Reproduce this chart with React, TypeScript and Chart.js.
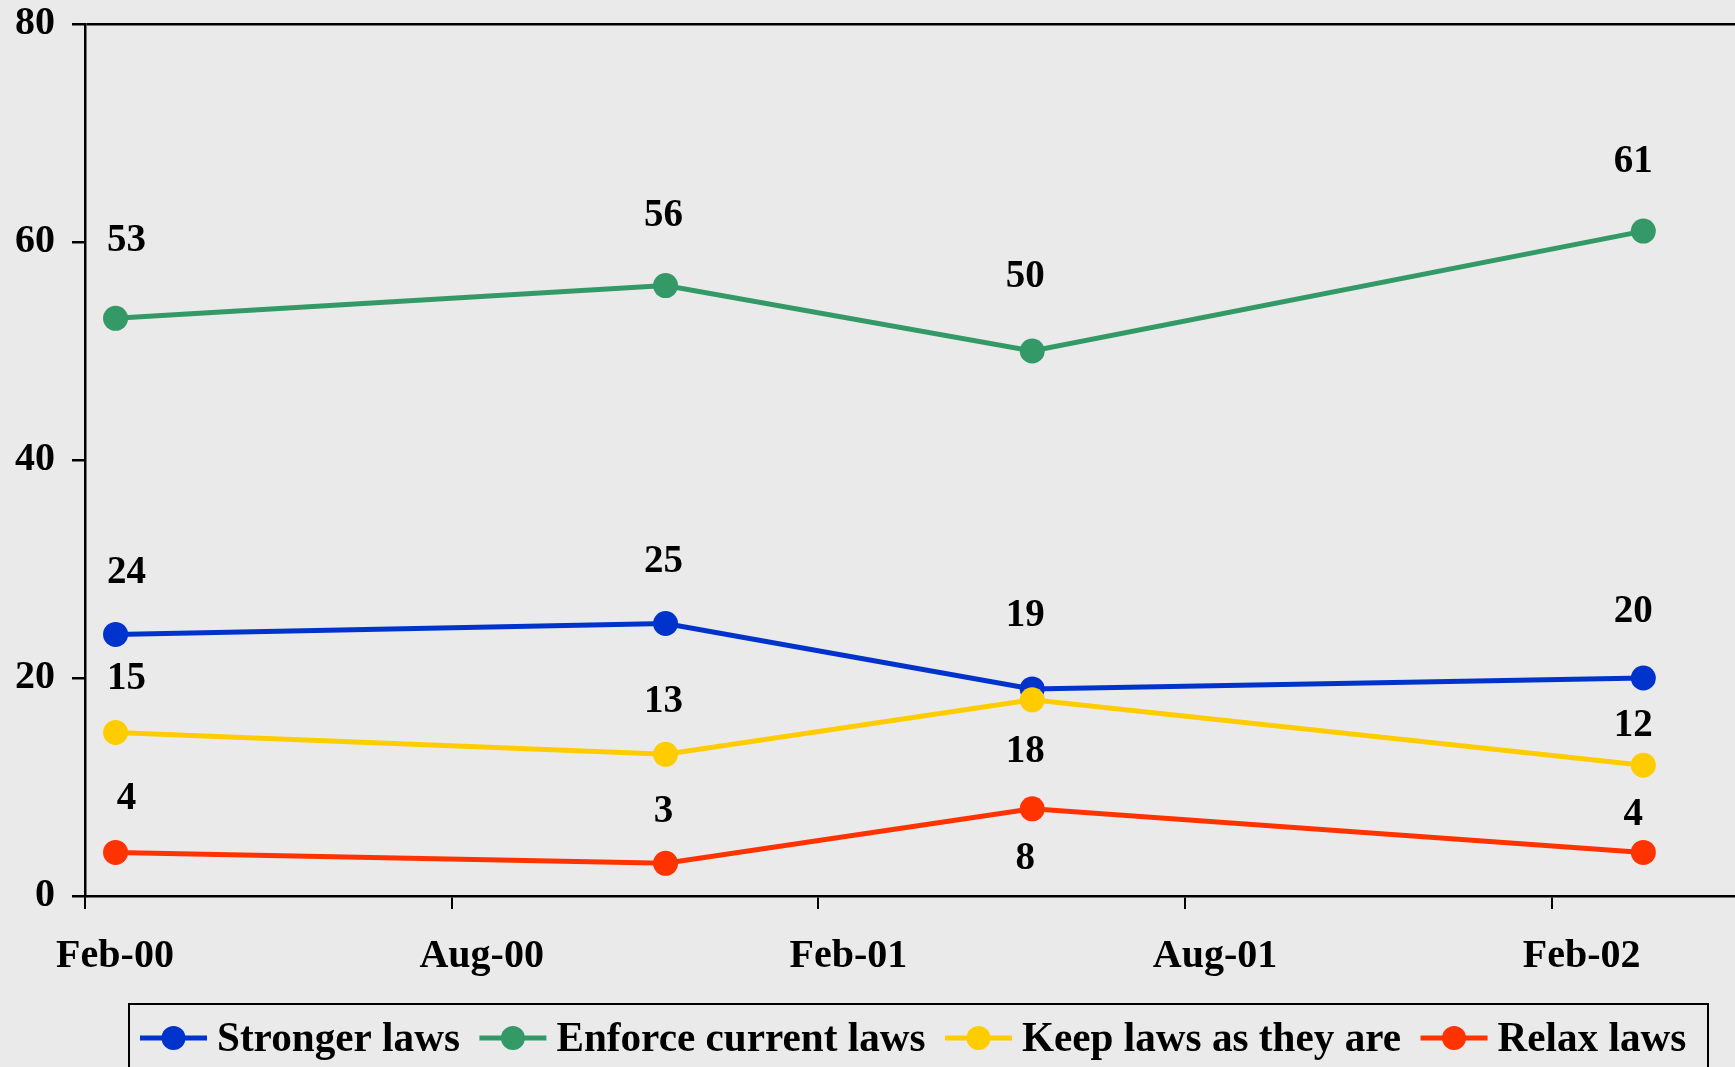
import React, { useEffect, useRef } from 'react';
import { Chart, registerables } from 'chart.js';

Chart.register(...registerables);

// ---- data ----
const axisStartMonth = '2000-02';
const axisEndMonth = '2002-05';
const surveyMonths = ['2000-02', '2000-11', '2001-05', '2002-03'];
const tickLabels = ['Feb-00', 'Aug-00', 'Feb-01', 'Aug-01', 'Feb-02'];
const seriesNames = ['Stronger laws', 'Enforce current laws', 'Keep laws as they are', 'Relax laws'];
const strongerLaws = [24, 25, 19, 20];
const enforceCurrentLaws = [53, 56, 50, 61];
const keepLawsAsTheyAre = [15, 13, 18, 12];
const relaxLaws = [4, 3, 8, 4];
const yMin = 0;
const yMax = 80;
const yStep = 20;
const tickEveryMonths = 6;

// ---- style (label placement relative to each point; negative = above) ----
const seriesColors = ['#0033CC', '#339966', '#FFCC00', '#FF3300'];
const labelDy = [
  [-61, -62, -73, -66],
  [-77, -70, -74, -69],
  [-54, -52, 52, -39],
  [-53, -51, 50, -37],
];
const labelDx = [11, -2, -7, -10];
const FONT = '"Liberation Serif", "Times New Roman", serif';
const BG = '#EAEAEA';

const monthIndex = (s: string) => {
  const [y, m] = s.split('-').map(Number);
  const [y0, m0] = axisStartMonth.split('-').map(Number);
  return (y - y0) * 12 + (m - m0);
};

const seriesValues = [strongerLaws, enforceCurrentLaws, keepLawsAsTheyAre, relaxLaws];

const pointLabelPlugin = {
  id: 'pointLabels',
  afterDatasetsDraw(chart: any) {
    const ctx = chart.ctx;
    ctx.save();
    ctx.font = `bold 39px ${FONT}`;
    ctx.fillStyle = '#000';
    ctx.textAlign = 'center';
    ctx.textBaseline = 'middle';
    chart.data.datasets.forEach((ds: any, i: number) => {
      const meta = chart.getDatasetMeta(i);
      meta.data.forEach((pt: any, j: number) => {
        ctx.fillText(String(ds.data[j].y), pt.x + labelDx[j], pt.y + labelDy[i][j]);
      });
    });
    ctx.restore();
  },
};

const boxLegendPlugin = {
  id: 'boxLegend',
  afterDraw(chart: any) {
    const ctx = chart.ctx;
    const box = { left: 129, top: 1004, right: 1708, bottom: 1090 };
    const cy = 1038;
    ctx.save();
    ctx.strokeStyle = '#000';
    ctx.lineWidth = 2;
    ctx.strokeRect(box.left, box.top, box.right - box.left, box.bottom - box.top);
    ctx.font = `bold 41.2px ${FONT}`;
    ctx.textBaseline = 'middle';
    ctx.textAlign = 'left';
    let x = 140;
    chart.data.datasets.forEach((ds: any, i: number) => {
      const color = seriesColors[i];
      ctx.strokeStyle = color;
      ctx.lineWidth = 5;
      ctx.beginPath();
      ctx.moveTo(x, cy);
      ctx.lineTo(x + 67, cy);
      ctx.stroke();
      ctx.fillStyle = color;
      ctx.beginPath();
      ctx.arc(x + 33.5, cy, 12, 0, Math.PI * 2);
      ctx.fill();
      ctx.fillStyle = '#000';
      const tx = x + 77;
      ctx.fillText(ds.label, tx, cy + 2);
      x = tx + ctx.measureText(ds.label).width + 19.5;
    });
    ctx.restore();
  },
};

export default function App() {
  const ref = useRef<HTMLCanvasElement>(null);

  useEffect(() => {
    document.body.style.margin = '0';
    document.body.style.background = BG;
    document.body.style.overflow = 'hidden';
    const xs = surveyMonths.map((m) => monthIndex(m) + 0.5);
    const chart = new Chart(ref.current as HTMLCanvasElement, {
      type: 'line',
      data: {
        datasets: seriesNames.map((name, i) => ({
          label: name,
          data: seriesValues[i].map((v, j) => ({ x: xs[j], y: v })),
          borderColor: seriesColors[i],
          backgroundColor: seriesColors[i],
          pointBackgroundColor: seriesColors[i],
          pointBorderWidth: 0,
          pointRadius: 12.5,
          borderWidth: 5,
          tension: 0,
          order: seriesNames.length - i,
          clip: false as any,
        })),
      },
      options: {
        responsive: false,
        animation: false,
        events: [],
        layout: { autoPadding: false, padding: { left: 0, right: 0, top: 0, bottom: 0 } },
        plugins: {
          legend: { display: false },
          tooltip: { enabled: false },
        },
        scales: {
          x: {
            type: 'linear',
            min: 0,
            max: monthIndex(axisEndMonth),
            afterBuildTicks: (s: any) => {
              s.ticks = s.ticks.filter((t: any) => t.value % tickEveryMonths === 0);
            },
            afterFit: (s: any) => {
              s.height = 171;
              s.paddingLeft = 0;
              s.paddingRight = 0;
            },
            ticks: {
              stepSize: tickEveryMonths,
              autoSkip: false,
              maxRotation: 0,
              labelOffset: 30,
              padding: 24,
              color: '#000',
              font: { family: FONT, size: 40, weight: 'bold' },
              callback: (v: any) => tickLabels[Math.round(Number(v) / tickEveryMonths)] ?? '',
            },
            grid: {
              drawOnChartArea: false,
              drawTicks: true,
              tickLength: 13,
              tickColor: '#000',
              lineWidth: 2,
            },
            border: { color: '#000', width: 2.5 },
          },
          y: {
            min: yMin,
            max: yMax,
            afterFit: (s: any) => {
              s.width = 85;
              s.paddingTop = 24;
              s.paddingBottom = 0;
            },
            ticks: {
              stepSize: yStep,
              padding: 17,
              color: '#000',
              font: { family: FONT, size: 40, weight: 'bold' },
            },
            grid: {
              color: (c: any) => (c.tick && c.tick.value === yMax ? '#000' : 'rgba(0,0,0,0)'),
              tickColor: '#000',
              tickLength: 13,
              lineWidth: 2.5,
            },
            border: { color: '#000', width: 2.5 },
          },
        },
      },
      plugins: [pointLabelPlugin, boxLegendPlugin],
    });
    return () => chart.destroy();
  }, []);

  return (
    <div style={{ width: 1735, height: 1067, background: BG }}>
      <canvas ref={ref} width={1735} height={1067} style={{ display: 'block' }} />
    </div>
  );
}
